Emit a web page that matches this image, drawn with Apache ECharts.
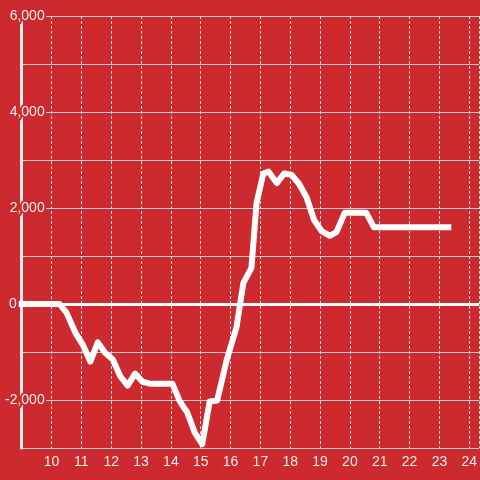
<!DOCTYPE html>
<html>
<head>
<meta charset="utf-8">
<script src="https://cdn.jsdelivr.net/npm/echarts@6/dist/echarts.min.js"></script>
<style>
  html, body { margin: 0; padding: 0; background: #cc2a2e; }
  #chart { width: 480px; height: 480px; }
</style>
</head>
<body>
<div id="chart"></div>
<script>
// hours of the day (decimal) and running value at each vertex
const hours = [9, 10.27, 10.5, 10.8, 11.05, 11.3, 11.55, 11.8, 12.05, 12.3, 12.55, 12.8,
  13.05, 13.3, 14.05, 14.3, 14.55, 14.8, 15.05, 15.3, 15.55, 15.87, 16.2, 16.43, 16.7,
  16.87, 17.1, 17.27, 17.55, 17.8, 18.05, 18.3, 18.55, 18.8, 19.05, 19.33, 19.55, 19.83,
  20.55, 20.8, 23.3]
const values = [0, 0, -180, -600, -850, -1200, -800, -1020, -1150, -1500, -1700, -1450,
  -1620, -1660, -1660, -2030, -2260, -2680, -2920, -2030, -2010, -1170, -480, 440, 750,
  2100, 2720, 2760, 2520, 2720, 2690, 2500, 2220, 1750, 1520, 1420, 1500, 1900,
  1900, 1600, 1600]
const yLabelValues = [-2000, 0, 2000, 4000, 6000]
const xLabelHours = [10, 11, 12, 13, 14, 15, 16, 17, 18, 19, 20, 21, 22, 23, 24]

const labelFont = "'Liberation Sans', Arial, sans-serif"
const bg = '#cc2a2e'

const chart = echarts.init(document.getElementById('chart'))
chart.setOption({
  animation: false,
  backgroundColor: bg,
  grid: { left: 20, right: 0, top: 16, bottom: 32 },
  xAxis: {
    type: 'value',
    min: 9,
    max: 24.3333,
    interval: 1,
    axisLine: { show: false, onZero: false },
    axisTick: { show: false },
    axisLabel: {
      color: '#eee',
      fontSize: 14,
      fontFamily: labelFont,
      margin: 7,
      showMaxLabel: false,
      formatter: v => xLabelHours.indexOf(v) >= 0 ? String(v) : ''
    },
    splitLine: {
      show: true,
      lineStyle: { color: '#ddd', width: 1, type: [3, 2] }
    }
  },
  yAxis: {
    type: 'value',
    min: -3000,
    max: 6000,
    interval: 1000,
    axisLine: { show: true, lineStyle: { color: '#eee', width: 3 } },
    axisTick: { show: false },
    axisLabel: {
      color: '#eee',
      fontSize: 14,
      fontFamily: labelFont,
      margin: -23,
      align: 'right',
      textBorderColor: bg,
      textBorderWidth: 4,
      formatter: v => {
        if (yLabelValues.indexOf(v) < 0) return ''
        if (v === 0) return '{z|0}'
        return String(v).replace(/\B(?=(\d{3})+(?!\d))/g, ',')
      },
      rich: {
        z: {
          color: '#eee',
          fontSize: 14,
          fontFamily: labelFont,
          padding: [0, 28, 0, 0]
        }
      }
    },
    splitLine: { show: true, lineStyle: { color: '#ccc', width: 1 } }
  },
  series: [
    {
      type: 'line',
      data: hours.map((h, i) => [h, values[i]]),
      showSymbol: false,
      lineStyle: { color: '#fff', width: 6, cap: 'square', join: 'round' },
      markLine: {
        silent: true,
        symbol: 'none',
        label: { show: false },
        lineStyle: { color: '#fff', width: 3, type: 'solid' },
        data: [{ yAxis: 0 }]
      }
    }
  ]
})
</script>
</body>
</html>
